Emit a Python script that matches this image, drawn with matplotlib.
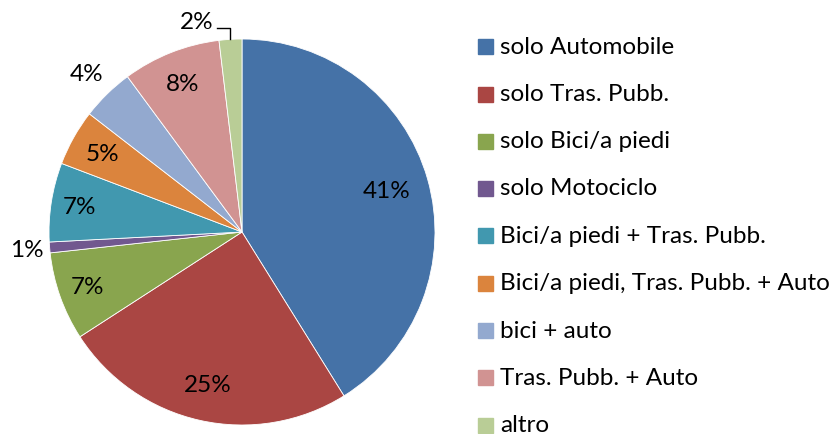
import numpy as np
import matplotlib
matplotlib.use("Agg")
import matplotlib.pyplot as plt
from matplotlib.patches import Rectangle

categories = ["solo Automobile", "solo Tras. Pubb.", "solo Bici/a piedi", "solo Motociclo",
              "Bici/a piedi + Tras. Pubb.", "Bici/a piedi, Tras. Pubb. + Auto",
              "bici + auto", "Tras. Pubb. + Auto", "altro"]
values = [41.1, 24.7, 7.4, 0.9, 6.6, 4.7, 4.4, 8.2, 1.9]
colors = ["#4572A7", "#AA4643", "#89A54E", "#71588F", "#4198AF",
          "#DB843D", "#93A9CF", "#D19392", "#B9CD96"]
label_dist = [0.78, 0.81, 0.85, 1.12, 0.85, 0.83, 1.15, 0.83, None]

plt.rcParams['font.family'] = ['Lato', 'DejaVu Sans']
W, H = 831, 435
fig = plt.figure(figsize=(W/100, H/100), dpi=100)
cx, cy, R = 242, 233, 193
ax = fig.add_axes([(cx-R)/W, (H-cy-R)/H, 2*R/W, 2*R/H])
wedges, _ = ax.pie(values, colors=colors, startangle=90, counterclock=False,
                   radius=1, wedgeprops=dict(edgecolor="white", linewidth=0.6))
ax.set_xlim(-1, 1); ax.set_ylim(-1, 1)
ax.set_aspect('equal'); ax.axis('off')

total = sum(values)
cum = 0
fs = 17.5
for v, d, w in zip(values, label_dist, wedges):
    mid = 90 - 360 * (cum + v/2) / total
    cum += v
    t = np.deg2rad(mid)
    lbl = f"{v/total*100:.0f}%"
    if d is not None:
        ax.text(d*np.cos(t), d*np.sin(t), lbl, ha='center', va='center', fontsize=fs, clip_on=False)
    else:
        ex, ey = np.cos(t), np.sin(t)
        ly = 1 + 11/R
        lx = ex - 13/R
        ax.plot([ex, ex, lx], [ey, ly, ly], color='black', lw=1, clip_on=False)
        ax.text(lx - 4/R, ly + 7/R, lbl, ha='right', va='center', fontsize=fs, clip_on=False)

ys = [47.5, 95, 142, 189, 236.5, 284, 331.5, 378.5, 426]
for lab, c, y in zip(categories, colors, ys):
    fig.patches.append(Rectangle((478/W, (H-y-7.5)/H), 15/W, 15/H, color=c, transform=fig.transFigure))
    fig.text(500/W, (H-y)/H, lab, ha='left', va='center', fontsize=fs)

fig.savefig("out.png", dpi=100)
